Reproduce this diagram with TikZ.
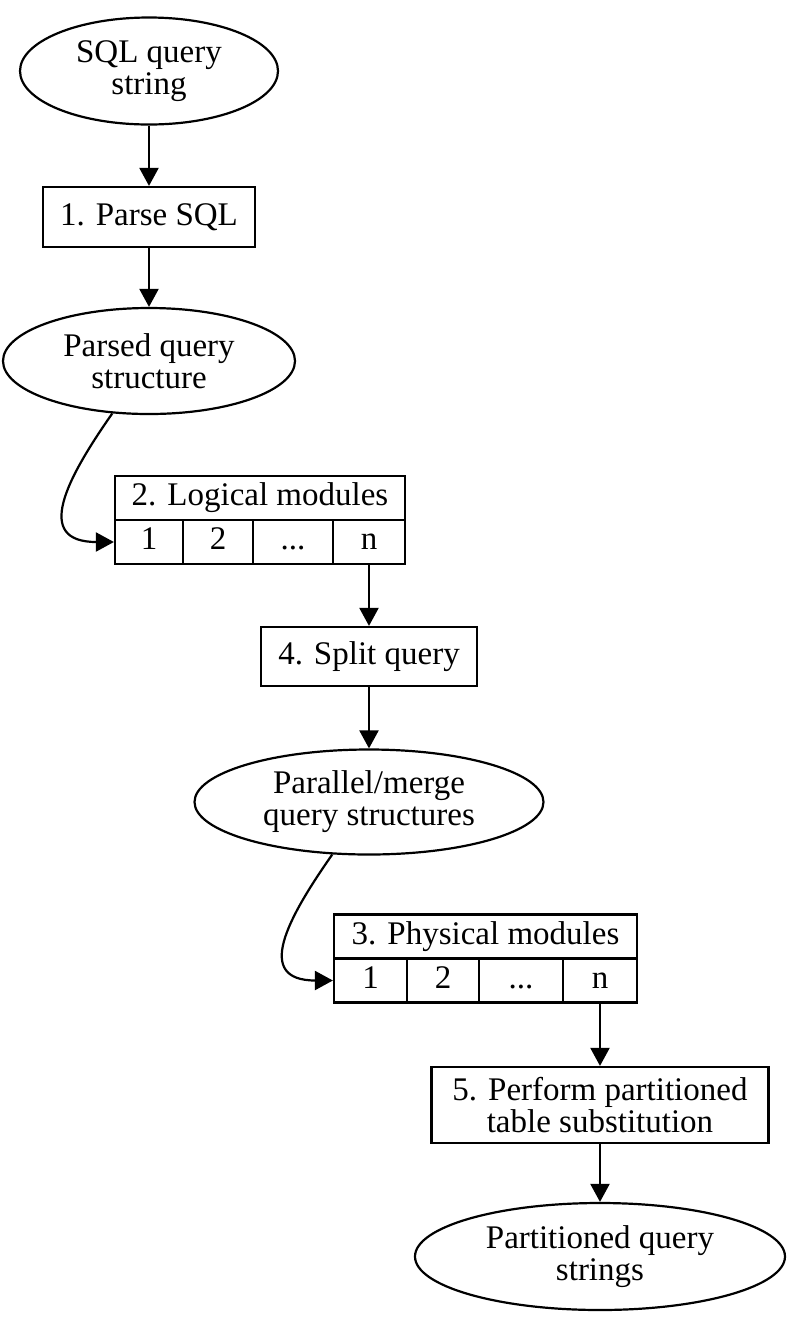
\documentclass[tikz,border=0pt]{standalone}
\usepackage{fontspec}
\setmainfont{Liberation Serif}
\usetikzlibrary{shapes.geometric,arrows.meta}

\begin{document}
\begin{tikzpicture}[x=0.5pt,y=-0.5pt,
    every node/.style={draw=black,line width=1.1pt,inner sep=0pt,align=center,
      font=\fontsize{16.5}{16}\selectfont},
    data/.style={shape=ellipse},
    proc/.style={shape=rectangle},
    cell/.style={shape=rectangle,minimum height=22pt,text height=11pt,text depth=3.5pt},
    arr/.style={-{Triangle[length=9pt,width=9.5pt]},line width=1.1pt}]
    \useasboundingbox (0,0) rectangle (804,1330);
    % inputs and first step
    \node[data,minimum width=129pt,minimum height=53.5pt] (sql) at (149,71) {SQL query\\string};
    \node[proc,minimum width=106pt,minimum height=30pt] (parse) at (149,217) {1. Parse SQL};
    \node[data,minimum width=146pt,minimum height=53pt] (parsed) at (149,361) {Parsed query\\structure};
    % logical modules record
    \node[cell,minimum width=145pt] (lhead) at (260,498) {2. Logical modules};
    \node[cell,minimum width=34pt] (l1) at (149,542) {1};
    \node[cell,minimum width=35pt] (l2) at (218,542) {2};
    \node[cell,minimum width=40pt] (l3) at (293,542) {...};
    \node[cell,minimum width=36pt] (ln) at (369,542) {n};
    \node[proc,minimum width=108pt,minimum height=29.5pt] (split) at (369,656.5) {4. Split query};
    \node[data,minimum width=174.5pt,minimum height=52.5pt] (parallel) at (369,802) {Parallel/merge\\query structures};
    % physical modules record
    \node[cell,minimum width=151.5pt] (phead) at (485.5,936.5) {3. Physical modules};
    \node[cell,minimum width=36.5pt] (p1) at (370.5,980.5) {1};
    \node[cell,minimum width=36pt] (p2) at (443,980.5) {2};
    \node[cell,minimum width=42pt] (p3) at (521,980.5) {...};
    \node[cell,minimum width=37pt] (pn) at (600,980.5) {n};
    \node[proc,minimum width=168.5pt,minimum height=38pt] (subst) at (600,1105) {5. Perform partitioned\\table substitution};
    \node[data,minimum width=185pt,minimum height=53.5pt] (out) at (600,1256.5) {Partitioned query\\strings};
    % connectors
    \path[arr] (sql) edge (parse);
    \path[arr] (parse) edge (parsed);
    \path[arr] (parsed) edge [out=235,in=180,looseness=1.6] (l1);
    \path[arr] (ln) edge (split);
    \path[arr] (split) edge (parallel);
    \path[arr] (parallel) edge [out=235,in=180,looseness=1.6] (p1);
    \path[arr] (pn) edge (subst);
    \path[arr] (subst) edge (out);
\end{tikzpicture}
\end{document}
